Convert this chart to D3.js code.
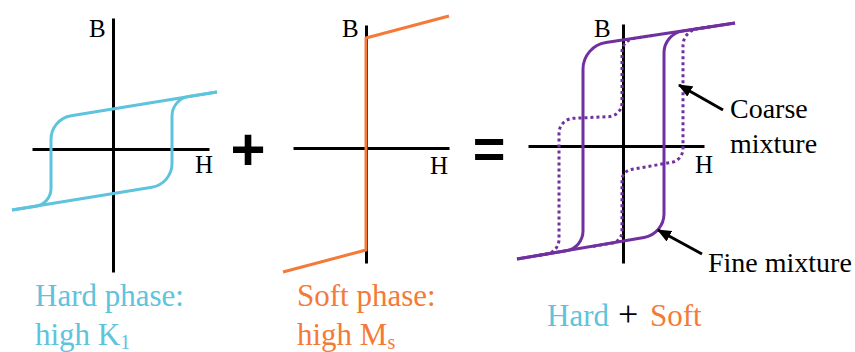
<!DOCTYPE html>
<html>
<head>
<meta charset="utf-8">
<script src="https://cdn.jsdelivr.net/npm/d3@7"></script>
<style>
  body { margin: 0; background: #fff; }
  svg text { font-family: "Liberation Serif", "Times New Roman", serif; }
</style>
</head>
<body>
<svg width="855" height="352"></svg>
<script>
// B-H loops in arbitrary units (H across, B up).
// every branch is a list of [H, B] corners, the inner corners get rounded.

const hardAxisH = [-4.05, 4.8];
const hardAxisB = [-6.15, 6.55];
const hardDown = [[5.2, 2.85], [-3.1, 1.5], [-3.1, -2.75], [-5.05, -3.05]];
const hardUp = [[-5.05, -3.05], [2.95, -1.75], [2.95, 2.5], [5.2, 2.85]];

const softAxisH = [-3.65, 4.15];
const softAxisB = [-5.75, 6.15];
const softCurve = [[4.15, 6.6], [0, 5.5], [0, -5.1], [-4.15, -6.2]];

const mixAxisH = [-4.75, 4.05];
const mixAxisB = [-5.85, 6.1];
const fineDown = [[5.6, 6.15], [-2, 5.0], [-2, -5.1], [-5.3, -5.65]];
const fineUp = [[-5.3, -5.65], [2.05, -4.4], [2.05, 5.6], [5.6, 6.15]];
const coarseDown = [[1.5, 5.53], [-0.05, 5.29], [-0.05, 1.5], [-3.2, 1.35], [-3.2, -5.3], [-4.3, -5.48]];
const coarseUp = [[-1.5, -5.02], [-0.05, -4.77], [-0.05, -1.25], [3.0, -0.72], [3.0, 5.76], [4.5, 5.98]];

// arrows in the mixture panel: [tail, tip]
const coarseArrow = [[5.0, 1.8], [2.8, 3.05]];
const fineArrow = [[3.95, -5.4], [1.75, -4.2]];

const blue = "#5ec3dd";
const orange = "#f47a38";
const purple = "#7030a0";
const unit = 20; // px per unit

const svg = d3.select("svg");

svg.append("defs").append("marker")
  .attr("id", "head")
  .attr("viewBox", "0 0 14 12")
  .attr("markerUnits", "userSpaceOnUse")
  .attr("markerWidth", 14)
  .attr("markerHeight", 12)
  .attr("refX", 13)
  .attr("refY", 6)
  .attr("orient", "auto")
  .append("path")
  .attr("d", "M0,0L14,6L0,12Z")
  .attr("fill", "#000");

const makeScales = (ox, oy, hExt, bExt) => {
  return {
    x: d3.scaleLinear().domain(hExt).range(hExt.map((v) => ox + v * unit)),
    y: d3.scaleLinear().domain(bExt).range(bExt.map((v) => oy - v * unit))
  };
};

const roundedLine = (pts, radii, s) => {
  const p = d3.path();
  p.moveTo(s.x(pts[0][0]), s.y(pts[0][1]));
  for (let i = 1; i < pts.length - 1; i++) {
    p.arcTo(s.x(pts[i][0]), s.y(pts[i][1]), s.x(pts[i + 1][0]), s.y(pts[i + 1][1]), radii[i - 1]);
  }
  const last = pts[pts.length - 1];
  p.lineTo(s.x(last[0]), s.y(last[1]));
  return p.toString();
};

const drawAxes = (s) => {
  const g = svg.append("g");
  g.append("g")
    .attr("transform", `translate(0,${s.y(0)})`)
    .call(d3.axisBottom(s.x).tickValues([]).tickSizeOuter(0));
  g.append("g")
    .attr("transform", `translate(${s.x(0)},0)`)
    .call(d3.axisLeft(s.y).tickValues([]).tickSizeOuter(0));
  g.selectAll(".domain").attr("stroke", "#000").attr("stroke-width", 3);
};

const drawBranch = (pts, radii, s, color, dotted) => {
  const path = svg.append("path")
    .attr("d", roundedLine(pts, radii, s))
    .attr("fill", "none")
    .attr("stroke", color)
    .attr("stroke-width", 3);
  if (dotted) path.attr("stroke-dasharray", "3,3");
};

const axisLabel = (txt, x, y) => {
  svg.append("text").attr("x", x).attr("y", y)
    .attr("font-size", 25).attr("fill", "#000").text(txt);
};

// hard phase
const hard = makeScales(113, 149, hardAxisH, hardAxisB);
drawAxes(hard);
drawBranch(hardDown, [24, 18], hard, blue);
drawBranch(hardUp, [24, 20], hard, blue);
axisLabel("B", 89, 37);
axisLabel("H", 195, 173);

// soft phase
const soft = makeScales(366, 148, softAxisH, softAxisB);
drawAxes(soft);
drawBranch(softCurve, [0.01, 0.01], soft, orange);
axisLabel("B", 342, 37);
axisLabel("H", 430, 174);

// mixture
const mix = makeScales(623, 146, mixAxisH, mixAxisB);
drawAxes(mix);
drawBranch(coarseDown, [14, 14, 15, 15], mix, purple, true);
drawBranch(coarseUp, [12, 11, 14, 17], mix, purple, true);
drawBranch(fineDown, [27, 20], mix, purple);
drawBranch(fineUp, [24, 22], mix, purple);
axisLabel("B", 594, 37);
axisLabel("H", 695, 173);

[coarseArrow, fineArrow].forEach((a) => {
  svg.append("line")
    .attr("x1", mix.x(a[0][0])).attr("y1", mix.y(a[0][1]))
    .attr("x2", mix.x(a[1][0])).attr("y2", mix.y(a[1][1]))
    .attr("stroke", "#000").attr("stroke-width", 3)
    .attr("marker-end", "url(#head)");
});

const note = (txt, x, y) => {
  svg.append("text").attr("x", x).attr("y", y)
    .attr("font-size", 28).attr("fill", "#000").text(txt);
};
note("Coarse", 730, 118);
note("mixture", 730, 153);
note("Fine mixture", 708, 272);

// operators
svg.append("text").attr("x", 248).attr("y", 170)
  .attr("text-anchor", "middle")
  .style("font-family", "Liberation Sans, Arial, sans-serif")
  .attr("font-weight", "bold").attr("font-size", 60).text("+");
svg.append("text").attr("x", 489).attr("y", 168)
  .attr("text-anchor", "middle")
  .style("font-family", "Liberation Sans, Arial, sans-serif")
  .attr("font-weight", "bold").attr("font-size", 56).text("=");

// captions
const caption = (x, y, color) => {
  return svg.append("text").attr("x", x).attr("y", y)
    .attr("font-size", 31).attr("fill", color);
};
caption(35, 306, blue).text("Hard phase:");
const k1 = caption(35, 345, blue);
k1.append("tspan").text("high K");
k1.append("tspan").attr("font-size", 20).attr("dy", 4).text("1");

caption(297, 306, orange).text("Soft phase:");
const ms = caption(297, 345, orange);
ms.append("tspan").text("high M");
ms.append("tspan").attr("font-size", 20).attr("dy", 4).text("s");

const hs = caption(547, 326, blue);
hs.append("tspan").text("Hard");
hs.append("tspan").attr("x", 618).attr("font-size", 36).attr("fill", "#000").text("+");
hs.append("tspan").attr("x", 650).attr("font-size", 31).attr("fill", orange).text("Soft");
</script>
</body>
</html>
